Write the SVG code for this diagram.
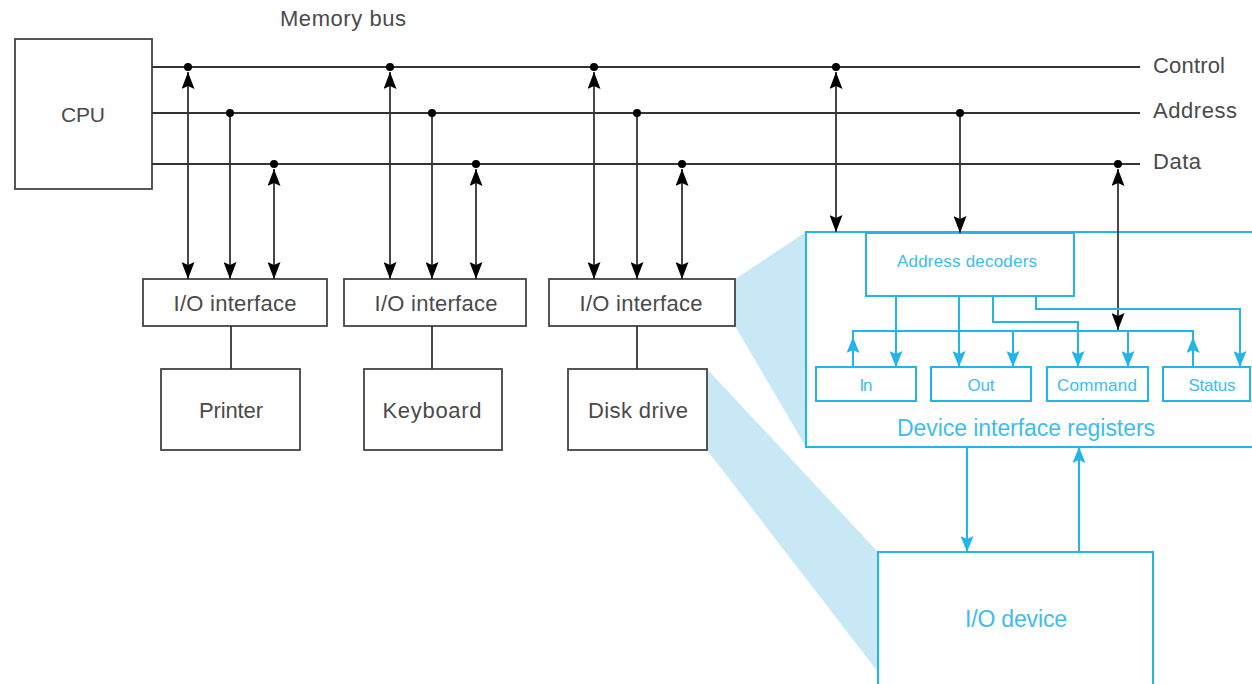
<svg xmlns="http://www.w3.org/2000/svg" width="1252" height="684" viewBox="0 0 1252 684">
<style>
.bx{fill:#fff;stroke:#444;stroke-width:1.8}
.ln{fill:none;stroke:#333;stroke-width:1.8}
.bb{fill:#fff;stroke:#22b5ea;stroke-width:2}
.bl{fill:none;stroke:#22b5ea;stroke-width:2}
.sh{fill:#c8e8f6}
.t{font-family:"Liberation Sans",Arial,sans-serif;fill:#4a4a4a;text-anchor:middle;font-size:22px}
.tb{font-family:"Liberation Sans",Arial,sans-serif;fill:#3dbdee;text-anchor:middle}
.s{font-size:17px}
.l{font-size:23px}
.st{text-anchor:start}
.dot{fill:#000}
</style>
<defs>
<marker id="ak" viewBox="0 0 17 13" refX="17" refY="6.5" markerWidth="17" markerHeight="13" markerUnits="userSpaceOnUse" orient="auto-start-reverse"><path d="M0,0 L17,6.5 L0,13 L3,6.5 z" fill="#000"/></marker>
<marker id="ab" viewBox="0 0 16 13" refX="16" refY="6.5" markerWidth="16" markerHeight="13" markerUnits="userSpaceOnUse" orient="auto-start-reverse"><path d="M0,0 L16,6.5 L0,13 L3,6.5 z" fill="#22b5ea"/></marker>
</defs>
<g id="shading">
<polygon class="sh" points="735,279 806,232 806,447 735,326"/>
<polygon class="sh" points="707,369 878,552 878,672 707,450"/>
</g>
<g id="title"><text class="t st" x="280" y="26" textLength="126" lengthAdjust="spacing">Memory bus</text></g>
<g id="cpu"><rect class="bx" x="15" y="39" width="137" height="150"/><text class="t" x="83" y="122" style="font-size:21px" textLength="44" lengthAdjust="spacing">CPU</text></g>
<g id="bus-labels">
<text class="t st" x="1153" y="73" textLength="72" lengthAdjust="spacing">Control</text>
<text class="t st" x="1153" y="118" textLength="84" lengthAdjust="spacing">Address</text>
<text class="t st" x="1153" y="169" textLength="48" lengthAdjust="spacing">Data</text>
</g>
<g id="io1"><rect class="bx" x="143" y="279" width="184" height="47"/><text class="t" x="235" y="311" textLength="123" lengthAdjust="spacing">I/O interface</text></g>
<g id="io2"><rect class="bx" x="344" y="279" width="182" height="47"/><text class="t" x="436" y="311" textLength="123" lengthAdjust="spacing">I/O interface</text></g>
<g id="io3"><rect class="bx" x="549" y="279" width="186" height="47"/><text class="t" x="641" y="311" textLength="123" lengthAdjust="spacing">I/O interface</text></g>
<g id="printer"><rect class="bx" x="161" y="369" width="139" height="81"/><text class="t" x="231" y="418" textLength="64" lengthAdjust="spacing">Printer</text></g>
<g id="keyboard"><rect class="bx" x="364" y="369" width="138" height="81"/><text class="t" x="432" y="418" textLength="99" lengthAdjust="spacing">Keyboard</text></g>
<g id="disk"><rect class="bx" x="568" y="369" width="139" height="81"/><text class="t" x="638" y="418" textLength="100" lengthAdjust="spacing">Disk drive</text></g>
<g id="device-interface">
<path class="bl" d="M1252,232 H806 V447 H1252"/>
<text class="tb l" x="1026" y="436" textLength="258" lengthAdjust="spacing">Device interface registers</text>
</g>
<g id="decoders"><rect class="bb" x="866" y="233" width="208" height="63"/><text class="tb s" x="967" y="267" textLength="140" lengthAdjust="spacing">Address decoders</text></g>
<g id="reg-in"><rect class="bb" x="816" y="367" width="100" height="34"/><text class="tb s" x="866" y="391" textLength="13" lengthAdjust="spacing">In</text></g>
<g id="reg-out"><rect class="bb" x="931" y="367" width="100" height="34"/><text class="tb s" x="981" y="391" textLength="27" lengthAdjust="spacing">Out</text></g>
<g id="reg-command"><rect class="bb" x="1047" y="367" width="101" height="34"/><text class="tb s" x="1097" y="391" textLength="80" lengthAdjust="spacing">Command</text></g>
<g id="reg-status"><rect class="bb" x="1163" y="367" width="87" height="34"/><text class="tb s" x="1212" y="391" textLength="47" lengthAdjust="spacing">Status</text></g>
<g id="io-device"><path class="bb" d="M878,684 V552 H1153 V684"/><text class="tb l" x="1016" y="627" textLength="102" lengthAdjust="spacing">I/O device</text></g>
<g id="connectors">
<path class="ln" d="M152,67 H1140 M152,113 H1140 M152,164 H1140"/>
<path class="ln" d="M188,72 V279" marker-start="url(#ak)" marker-end="url(#ak)"/>
<path class="ln" d="M390,72 V279" marker-start="url(#ak)" marker-end="url(#ak)"/>
<path class="ln" d="M594,72 V279" marker-start="url(#ak)" marker-end="url(#ak)"/>
<path class="ln" d="M836,72 V232" marker-start="url(#ak)" marker-end="url(#ak)"/>
<path class="ln" d="M274,169 V279" marker-start="url(#ak)" marker-end="url(#ak)"/>
<path class="ln" d="M476,169 V279" marker-start="url(#ak)" marker-end="url(#ak)"/>
<path class="ln" d="M682,169 V279" marker-start="url(#ak)" marker-end="url(#ak)"/>
<path class="ln" d="M1118,169 V330" marker-start="url(#ak)" marker-end="url(#ak)"/>
<path class="ln" d="M230,113 V279" marker-end="url(#ak)"/>
<path class="ln" d="M432,113 V279" marker-end="url(#ak)"/>
<path class="ln" d="M637,113 V279" marker-end="url(#ak)"/>
<path class="ln" d="M960,113 V233" marker-end="url(#ak)"/>
<path class="ln" d="M231,326 V369 M432,326 V369 M637,326 V369"/>
<g class="dot">
<circle cx="188" cy="67" r="4"/><circle cx="390" cy="67" r="4"/><circle cx="594" cy="67" r="4"/><circle cx="836" cy="67" r="4"/>
<circle cx="230" cy="113" r="4"/><circle cx="432" cy="113" r="4"/><circle cx="637" cy="113" r="4"/><circle cx="960" cy="113" r="4"/>
<circle cx="274" cy="164" r="4"/><circle cx="476" cy="164" r="4"/><circle cx="682" cy="164" r="4"/><circle cx="1118" cy="164" r="4"/>
</g>
<path class="bl" d="M853,337 V331 H1193 V337"/>
<path class="bl" d="M853,367 V337" marker-end="url(#ab)"/>
<path class="bl" d="M1193,367 V337" marker-end="url(#ab)"/>
<path class="bl" d="M896,296 V367" marker-end="url(#ab)"/>
<path class="bl" d="M959,296 V367" marker-end="url(#ab)"/>
<path class="bl" d="M1013,331 V367" marker-end="url(#ab)"/>
<path class="bl" d="M993,296 V322 H1078 V367" marker-end="url(#ab)"/>
<path class="bl" d="M1128,331 V367" marker-end="url(#ab)"/>
<path class="bl" d="M1036,296 V309 H1240 V367" marker-end="url(#ab)"/>
<path class="bl" d="M967,447 V552" marker-end="url(#ab)"/>
<path class="bl" d="M1079,552 V447" marker-end="url(#ab)"/>
</g>
</svg>
